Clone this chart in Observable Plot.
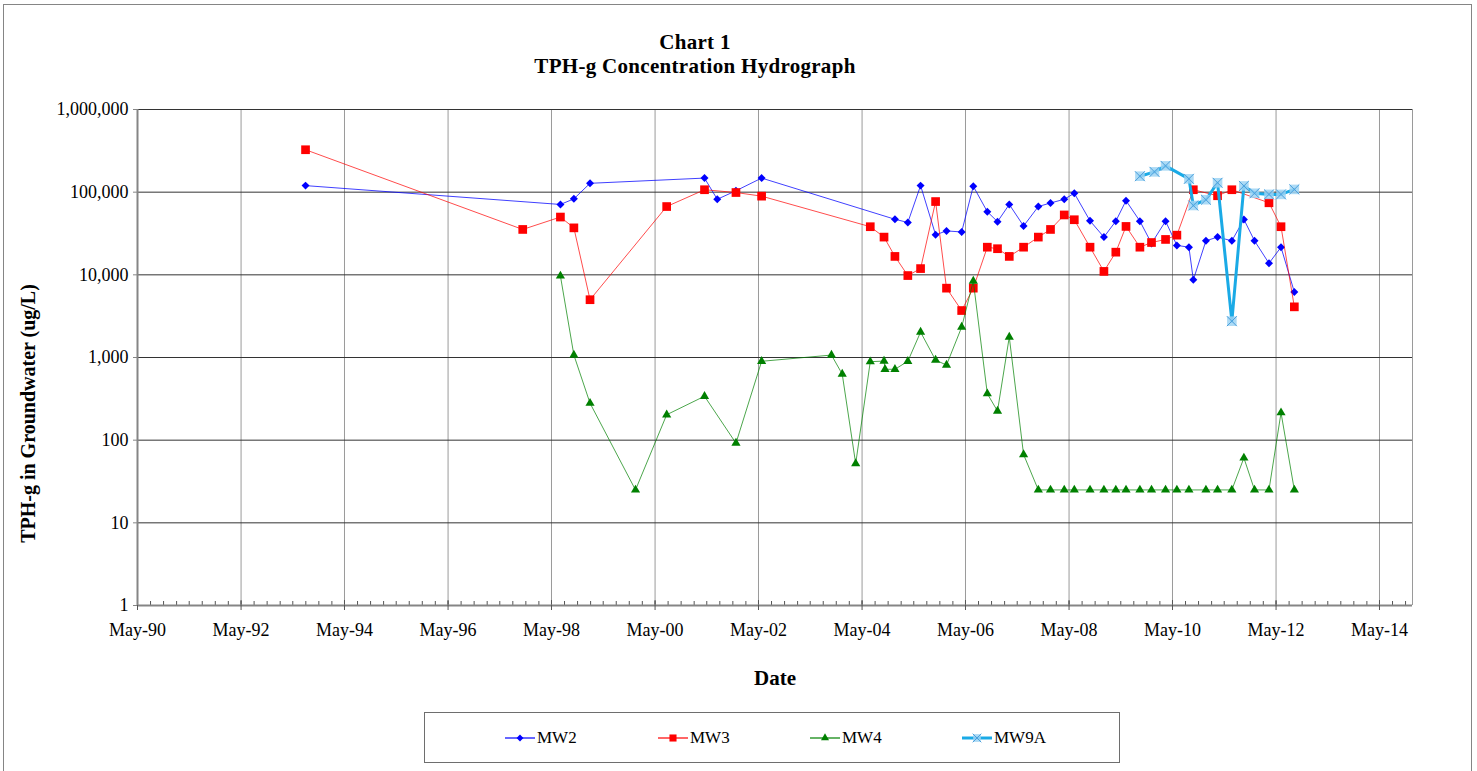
<!DOCTYPE html>
<html><head><meta charset="utf-8">
<script src="https://cdn.jsdelivr.net/npm/d3@7"></script>
<script src="https://cdn.jsdelivr.net/npm/@observablehq/plot@0.6"></script>
<style>
html,body{margin:0;padding:0;background:#fff;}
body{width:1477px;height:771px;overflow:hidden;position:relative;font-family:"Liberation Serif","Times New Roman",serif;color:#000;}
#frame{position:absolute;left:3px;top:4px;width:1469px;height:800px;border:1px solid #858585;box-sizing:border-box;}
#chart{position:absolute;left:0;top:0;}
#title{position:absolute;left:0;top:30px;width:1390px;text-align:center;font-weight:bold;font-size:21px;line-height:24px;letter-spacing:0.3px;font-family:"Liberation Serif","Times New Roman",serif;}
#legend{position:absolute;left:424px;top:712px;width:696px;height:51px;border:1px solid #6e6e6e;box-sizing:border-box;background:#fff;}
.item{position:absolute;top:0;height:49px;display:flex;align-items:center;font-size:17px;font-family:"Liberation Serif","Times New Roman",serif;}
.item svg{display:block;}
.item span{margin-left:2px;}
</style></head>
<body>
<div id="frame"></div>
<div id="chart"></div>
<div id="title">Chart 1<br>TPH-g Concentration Hydrograph</div>
<div id="legend"></div>
<script>
// ---------- data ----------
const mw2Dates = ["1993-07-30","1998-07-03","1998-10-06","1999-01-28","2001-04-15","2001-07-14","2001-11-23","2002-05-23",
  "2004-12-19","2005-03-20","2005-06-18","2005-10-02","2005-12-18","2006-04-04","2006-06-25","2006-10-02","2006-12-13",
  "2007-03-06","2007-06-15","2007-09-27","2007-12-22","2008-03-28","2008-06-07","2008-09-26","2009-01-02","2009-03-27",
  "2009-06-07","2009-09-13","2009-12-04","2010-03-13","2010-06-01","2010-08-25","2010-09-25","2010-12-23","2011-03-15",
  "2011-06-24","2011-09-17","2011-12-01","2012-03-12","2012-06-05","2012-09-07"];
const mw2Values = [120000,71000,83000,128000,148000,82000,104000,148000,
  47000,43000,120000,30500,34000,33000,118000,58000,44000,
  71000,39000,67000,74000,82000,97000,45000,28600,44600,
  79000,44600,24000,44600,22700,21600,8700,25800,28600,
  25800,46800,25800,13800,21600,6200];

const mw3Dates = ["1993-07-30","1997-10-10","1998-07-03","1998-10-06","1999-01-28","2000-07-22","2001-04-15","2001-11-23",
  "2002-05-23","2004-06-28","2004-10-03","2004-12-19","2005-03-20","2005-06-18","2005-10-02","2005-12-18","2006-04-04",
  "2006-06-25","2006-10-02","2006-12-13","2007-03-06","2007-06-15","2007-09-27","2007-12-22","2008-03-28","2008-06-07",
  "2008-09-26","2009-01-02","2009-03-27","2009-06-07","2009-09-13","2009-12-04","2010-03-13","2010-06-01","2010-09-25",
  "2011-03-15","2011-06-24","2012-03-12","2012-06-05","2012-09-07"];
const mw3Values = [326000,35400,50000,37000,5000,67000,107000,99000,
  89500,38200,28600,16700,9800,11900,77000,6900,3700,
  6900,21600,20700,16700,21600,28600,35400,53000,46400,
  21600,11000,18800,38500,21600,24600,26800,30200,107000,
  90500,107000,74400,38200,4100];

const mw4Dates = ["1998-07-03","1998-10-06","1999-01-28","1999-12-15","2000-07-22","2001-04-15","2001-11-23","2002-05-23",
  "2003-09-28","2003-12-13","2004-03-17","2004-06-28","2004-10-03","2004-10-10","2004-12-19","2005-03-20","2005-06-18",
  "2005-10-02","2005-12-18","2006-04-04","2006-06-25","2006-10-02","2006-12-13","2007-03-06","2007-06-15","2007-09-27",
  "2007-12-22","2008-03-28","2008-06-07","2008-09-26","2009-01-02","2009-03-27","2009-06-07","2009-09-13","2009-12-04",
  "2010-03-13","2010-06-01","2010-08-25","2010-12-23","2011-03-15","2011-06-24","2011-09-17","2011-12-01","2012-03-12",
  "2012-06-05","2012-09-07"];
const mw4Values = [9700,1070,280,25,203,340,92,900,
  1070,630,52,890,905,720,720,900,2030,
  930,810,2330,8400,365,225,1770,67,25,
  25,25,25,25,25,25,25,25,25,
  25,25,25,25,25,25,61,25,25,
  215,25];

const mw9aDates = ["2009-09-13","2009-12-25","2010-03-13","2010-08-25","2010-09-25","2010-12-23","2011-03-15",
  "2011-06-24","2011-09-17","2011-12-01","2012-03-12","2012-06-05","2012-09-07"];
const mw9aValues = [156000,176000,208000,145000,69000,81000,130000,2750,119000,97000,94000,94000,108000];

const majorTickDates = ["1990-05-01","1992-05-01","1994-05-01","1996-05-01","1998-05-01","2000-05-01","2002-05-01",
  "2004-05-01","2006-05-01","2008-05-01","2010-05-01","2012-05-01","2014-05-01"];
const yTickValues = [1,10,100,1000,10000,100000,1000000];
const xDomainDates = ["1990-05-01","2014-12-20"];
const yLabelText = "TPH-g in Groundwater (ug/L)";
const xLabelText = "Date";

// ---------- build ----------
const parse = d3.utcParse("%Y-%m-%d");
const rows = (dates, values, series) => dates.map((d, i) => ({date: parse(d), value: values[i], series}));
const mw2 = rows(mw2Dates, mw2Values, "MW2");
const mw3 = rows(mw3Dates, mw3Values, "MW3");
const mw4 = rows(mw4Dates, mw4Values, "MW4");
const mw9a = rows(mw9aDates, mw9aValues, "MW9A");
const xDomain = xDomainDates.map(parse);
const majors = majorTickDates.map(parse);
const minors = d3.utcMonth.range(xDomain[0], xDomain[1], 3);

const chart = Plot.plot({
  width: 1477, height: 700,
  marginTop: 109, marginRight: 65, marginBottom: 95, marginLeft: 137,
  style: {fontFamily: "'Liberation Serif','Times New Roman',serif", fontSize: "18px", color: "#000", background: "transparent", overflow: "visible"},
  x: {type: "utc", domain: xDomain},
  y: {type: "log", domain: [1, 1e6]},
  marks: [
    Plot.ruleX(majors, {stroke: "#9a9a9a", strokeWidth: 1}),
    Plot.ruleX([xDomain[1]], {stroke: "#9a9a9a", strokeWidth: 1}),
    Plot.ruleY(yTickValues, {stroke: "#333", strokeWidth: 1}),
    Plot.tickX(minors, {x: d => d, insetTop: 492, stroke: "#555"}),
    Plot.tickX(majors, {x: d => d, insetTop: 491, stroke: "#555"}),
    Plot.ruleX([xDomain[0]], {stroke: "#858585", strokeWidth: 2}),
    Plot.ruleY([1], {stroke: "#858585", strokeWidth: 2}),
    Plot.axisY({ticks: yTickValues, tickFormat: d3.format(","), tickSize: 4, tickPadding: 5, stroke: "#858585", fill: "#000", label: null}),
    Plot.axisX({ticks: majors, tickFormat: d3.utcFormat("%b-%y"), tickSize: 5, tickPadding: 13, stroke: "#555", fill: "#000", label: null}),
    Plot.line(mw2, {x: "date", y: "value", stroke: "#0000ff", strokeWidth: 1, strokeOpacity: 0.75}),
    Plot.dot(mw2, {x: "date", y: "value", symbol: "diamond2", r: 3.6, fill: "#0000ff"}),
    Plot.line(mw3, {x: "date", y: "value", stroke: "#ff0000", strokeWidth: 1, strokeOpacity: 0.7}),
    Plot.dot(mw3, {x: "date", y: "value", symbol: "square", r: 4.9, fill: "#ff0000"}),
    Plot.line(mw4, {x: "date", y: "value", stroke: "#008000", strokeWidth: 1, strokeOpacity: 0.7}),
    Plot.dot(mw4, {x: "date", y: "value", symbol: "triangle", r: 3.4, fill: "#008000"}),
    Plot.line(mw9a, {x: "date", y: "value", stroke: "#1aaae6", strokeWidth: 3}),
    Plot.dot(mw9a, {x: "date", y: "value", symbol: "square", r: 5.4, fill: "#9dd3f3", fillOpacity: 0.85}),
    Plot.dot(mw9a, {x: "date", y: "value", symbol: "times", r: 4.6, stroke: "#4a9fdc", strokeWidth: 1}),
    Plot.text([yLabelText], {text: d => d, frameAnchor: "left", textAnchor: "middle", dx: -109, dy: 56, rotate: -90, fontSize: 20, fontWeight: "bold", fill: "#000"}),
    Plot.text([xLabelText], {text: d => d, frameAnchor: "bottom", dy: 79, fontSize: 21, fontWeight: "bold", fill: "#000"})
  ]
});
document.getElementById("chart").appendChild(chart);

// ---------- legend ----------
const legendEntries = [
  {name: "MW2", left: 80, line: "#0000ff", lw: 1.2, sym: d3.symbolDiamond2, size: 30, fill: "#0000ff"},
  {name: "MW3", left: 233, line: "#ff0000", lw: 1.2, sym: d3.symbolSquare, size: 50, fill: "#ff0000"},
  {name: "MW4", left: 385, line: "#008000", lw: 1.2, sym: d3.symbolTriangle, size: 28, fill: "#008000"},
  {name: "MW9A", left: 537, line: "#1aaae6", lw: 3, sym: d3.symbolSquare, size: 60, fill: "#9dd3f3", cross: true}
];
const legend = d3.select("#legend");
for (const e of legendEntries) {
  const item = legend.append("div").attr("class", "item").style("left", e.left + "px");
  const s = item.append("svg").attr("width", 30).attr("height", 14);
  s.append("line").attr("x1", 0).attr("x2", 30).attr("y1", 7).attr("y2", 7).attr("stroke", e.line).attr("stroke-width", e.lw);
  s.append("path").attr("transform", "translate(15,7)").attr("d", d3.symbol(e.sym, e.size)()).attr("fill", e.fill).attr("fill-opacity", e.cross ? 0.85 : 1);
  if (e.cross) s.append("path").attr("transform", "translate(15,7)").attr("d", d3.symbol(d3.symbolTimes, 50)()).attr("fill", "none").attr("stroke", "#4a9fdc").attr("stroke-width", 1);
  item.append("span").text(e.name);
}
</script>
</body></html>
